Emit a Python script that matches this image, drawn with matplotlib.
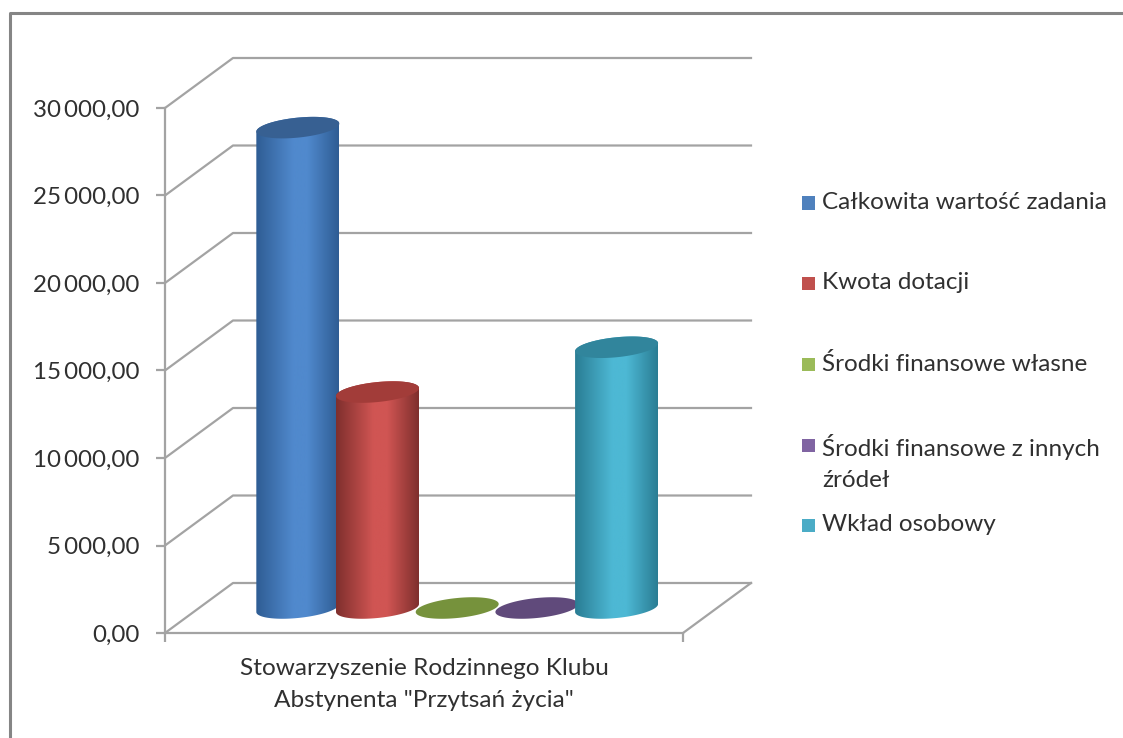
import numpy as np
import matplotlib
matplotlib.use("Agg")
import matplotlib.pyplot as plt
from matplotlib.colors import LinearSegmentedColormap
from matplotlib.lines import Line2D
from matplotlib.patches import PathPatch, Polygon
from matplotlib.path import Path

plt.rcParams["font.family"] = ["Lato", "DejaVu Sans"]

series = ["Całkowita wartość zadania", "Kwota dotacji", "Środki finansowe własne",
          "Środki finansowe z innych\nźródeł", "Wkład osobowy"]
values = [27450, 12340, 0, 0, 14900]
y_ticks = [0, 5000, 10000, 15000, 20000, 25000, 30000]
category = 'Stowarzyszenie Rodzinnego Klubu\nAbstynenta "Przytsań życia"'

edge_colors = ["#2f5d94", "#7f2f2d", "#5f7a2f", "#4f3b68", "#2a7d94"]
mid_colors = ["#5089cd", "#d05553", "#76923c", "#604a7b", "#4db8d4"]
top_colors = ["#376092", "#a23c39", "#76923c", "#604a7b", "#31859c"]
legend_colors = ["#4f81bd", "#c0504d", "#9bbb59", "#8064a2", "#4bacc6"]

W, H = 1123, 738
GRAY = "#a3a3a3"

fig = plt.figure(figsize=(W / 100, H / 100), dpi=100, facecolor="white")

# front plane of the fake 3d box, in pixels
left, right, top, bottom = 165, 683, 108, 633
ax = fig.add_axes([left / W, 1 - bottom / H, (right - left) / W, (bottom - top) / H])
ax.set_xlim(0, 6.5)
ax.set_ylim(0, 30000)
ax.patch.set_visible(False)

px_x = 6.5 / (right - left)
px_y = 30000 / (bottom - top)
depth_x = 68 * px_x
depth_y = 50 * px_y
back_end = 6.5 + depth_x

# walls and floor
for v in y_ticks:
    ax.plot([0, depth_x, back_end], [v, v + depth_y, v + depth_y], color=GRAY, lw=1.6,
            clip_on=False, zorder=1)
ax.plot([6.5, back_end], [0, depth_y], color=GRAY, lw=1.6, clip_on=False, zorder=1)

for s in ["top", "right"]:
    ax.spines[s].set_visible(False)
for s in ["left", "bottom"]:
    ax.spines[s].set_color(GRAY)
    ax.spines[s].set_linewidth(1.6)
ax.set_yticks(y_ticks)
ax.set_yticklabels([f"{v:,.2f}".replace(",", "\u2009").replace(".", ",") for v in y_ticks],
                   fontsize=17.4, color="#303030")
ax.set_xticks([0, 6.5])
ax.set_xticklabels(["", ""])
ax.tick_params(axis="both", length=6.5, width=1.6, color=GRAY)
ax.tick_params(axis="y", pad=12)


def ellipse(cx, cy, t):
    return np.column_stack([cx + 41.5 * px_x * np.cos(t),
                            cy + (4 * np.cos(t) + 10 * np.sin(t)) * px_y])


# cylinders, left to right so each one sits over the previous
base_x = 1.24
base_y = depth_y / 2
for i, v in enumerate(values):
    cx = base_x + i + depth_x / 2
    low = ellipse(cx, base_y, np.linspace(np.pi, 2 * np.pi, 60))
    up = ellipse(cx, base_y + v, np.linspace(0, np.pi, 60))
    if v > 0:
        pts = np.vstack([low, up, low[:1]])
        body = PathPatch(Path(pts), transform=ax.transData, fc="none", ec="none")
        ax.add_patch(body)
        cmap = LinearSegmentedColormap.from_list(
            "c", [(0, edge_colors[i]), (0.45, mid_colors[i]), (0.62, mid_colors[i]), (1, edge_colors[i])])
        grad = np.linspace(0, 1, 200)[None, :]
        im = ax.imshow(grad, cmap=cmap, aspect="auto", zorder=2 + i * 0.1, vmin=0, vmax=1,
                       extent=[pts[:, 0].min(), pts[:, 0].max(), base_y - 20 * px_y, base_y + v + 20 * px_y])
        im.set_clip_path(body)
    cap = ellipse(cx, base_y + v, np.linspace(0, 2 * np.pi, 120))
    ax.add_patch(Polygon(cap, closed=True, fc=top_colors[i], ec="none", zorder=2.05 + i * 0.1))
ax.set_xlim(0, 6.5)
ax.set_ylim(0, 30000)

ax.text(0.5, -0.047, category, transform=ax.transAxes, ha="center", va="top",
        fontsize=17.6, color="#303030", linespacing=1.64, clip_on=False)

# legend, spacing is uneven in the original
legend_y = [203, 283, 364, 445, 525]
for name, c, y in zip(series, legend_colors, legend_y):
    fig.patches.append(plt.Rectangle((802 / W, 1 - (y + 6.5) / H), 13 / W, 13 / H, fc=c, ec="none",
                                     transform=fig.transFigure, figure=fig))
    fig.text(822 / W, 1 - (y - 11) / H, name, ha="left", va="top", fontsize=17.5, color="#303030",
             linespacing=1.56)

# outer frame of the screenshot
fig.add_artist(Line2D([9.5 / W, 9.5 / W, 1], [0, 1 - 13 / H, 1 - 13 / H], color="#858585", lw=2.2))

fig.savefig("out.png", dpi=100)
